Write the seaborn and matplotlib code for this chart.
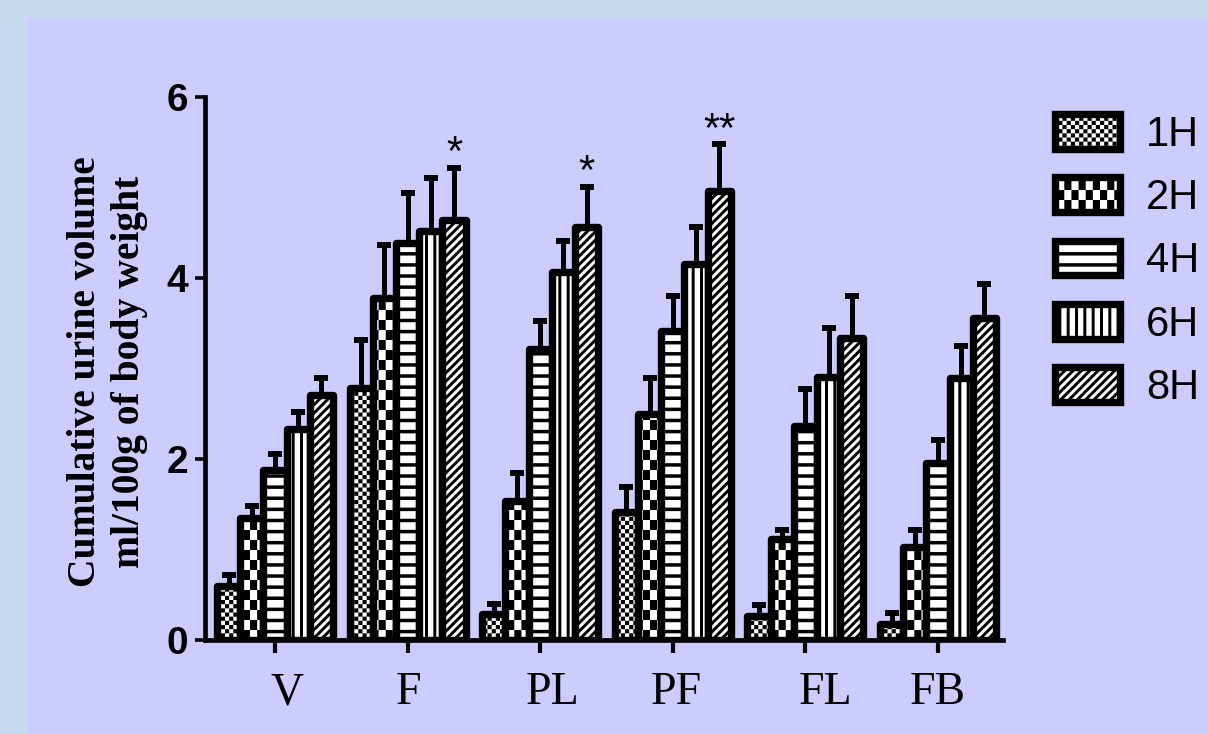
import numpy as np
import pandas as pd
import matplotlib
matplotlib.use("Agg")
import matplotlib.pyplot as plt
import matplotlib.hatch as mhatch
from matplotlib.path import Path
from matplotlib.patches import Rectangle
from matplotlib.transforms import ScaledTranslation
import seaborn as sns

# ---------------- data ----------------
groups = ["V", "F", "PL", "PF", "FL", "FB"]
times = ["1H", "2H", "4H", "6H", "8H"]

mean_1h = [0.60, 2.79, 0.29, 1.41, 0.27, 0.18]
mean_2h = [1.35, 3.78, 1.54, 2.50, 1.12, 1.03]
mean_4h = [1.88, 4.39, 3.21, 3.41, 2.37, 1.96]
mean_6h = [2.33, 4.52, 4.07, 4.15, 2.91, 2.89]
mean_8h = [2.71, 4.64, 4.56, 4.96, 3.34, 3.56]

sem_1h = [0.12, 0.53, 0.11, 0.28, 0.12, 0.12]
sem_2h = [0.13, 0.59, 0.31, 0.39, 0.10, 0.18]
sem_4h = [0.18, 0.55, 0.32, 0.39, 0.40, 0.25]
sem_6h = [0.19, 0.58, 0.34, 0.41, 0.54, 0.36]
sem_8h = [0.19, 0.58, 0.45, 0.52, 0.46, 0.37]

# significance marks above the 8H bars
sig_8h = ["", "*", "*", "**", "", ""]

means = [mean_1h, mean_2h, mean_4h, mean_6h, mean_8h]
sems = [sem_1h, sem_2h, sem_4h, sem_6h, sem_8h]


# ---------------- fill patterns (solid shapes in the unit hatch cell) ----------------
def _rect(x0, y0, x1, y1):
    return [(x0, y0), (x1, y0), (x1, y1), (x0, y1), (x0, y0)]


_RECT_CODES = [Path.MOVETO, Path.LINETO, Path.LINETO, Path.LINETO, Path.CLOSEPOLY]


class _ShapeHatch(mhatch.HatchPatternBase):
    char = None

    def __init__(self, hatch, density):
        self.polys = self.make_polys() if (hatch and self.char in hatch) else []
        self.num_vertices = 5 * len(self.polys)

    def make_polys(self):
        return []

    def set_vertices_and_codes(self, vertices, codes):
        for k, poly in enumerate(self.polys):
            vertices[5 * k:5 * k + 5] = poly
            codes[5 * k:5 * k + 5] = _RECT_CODES


class FineChecker(_ShapeHatch):
    char = "o"
    nx, ny = 24, 24

    def make_polys(self):
        return [_rect(i / self.nx, j / self.ny, (i + 1) / self.nx, (j + 1) / self.ny)
                for i in range(self.nx) for j in range(self.ny) if (i + j) % 2 == 0]


class CoarseChecker(FineChecker):
    char = "O"
    nx, ny = 14, 10


class HStripes(_ShapeHatch):
    char = "-"
    n, t = 9, 0.035

    def make_polys(self):
        return [_rect(0, k / self.n, 1, k / self.n + self.t) for k in range(self.n)]


class VStripes(_ShapeHatch):
    char = "|"
    n, t = 12, 0.03

    def make_polys(self):
        return [_rect(k / self.n, 0, k / self.n + self.t, 1) for k in range(self.n)]


class DiagStripes(_ShapeHatch):
    char = "/"
    n = 12

    def make_polys(self):
        w = 0.5 / self.n
        polys = []
        for k in range(-self.n, self.n + 1):
            c = k / self.n
            polys.append([(c, 0), (c + w, 0), (c + w + 1, 1), (c + 1, 1), (c, 0)])
        return polys


mhatch._hatch_types[:] = [FineChecker, CoarseChecker, HStripes, VStripes, DiagStripes]
hatches = ["o", "O", "-", "|", "/"]

# ---------------- style ----------------
sns.set_style("ticks")
plt.rcParams.update({
    "hatch.linewidth": 0.0,
    "hatch.color": "black",
    "text.color": "black",
    "axes.labelcolor": "black",
    "xtick.color": "black",
    "ytick.color": "black",
    "xtick.labelcolor": "black",
    "ytick.labelcolor": "black",
})
plt.rcParams["font.family"] = ["Liberation Sans", "DejaVu Sans"]

fig = plt.figure(figsize=(12.08, 7.34), dpi=100, facecolor="#c6d9ef")
fig.add_artist(Rectangle((28 / 1208, 0), 1 - 28 / 1208, 1 - 19 / 734,
                         transform=fig.transFigure, facecolor="#ccccff",
                         edgecolor="none", zorder=-10))

ax = fig.add_axes([205 / 1208, 1 - 640 / 734, 798 / 1208, 543 / 734])
ax.set_facecolor("none")

df = pd.DataFrame({
    "group": np.repeat([groups], len(times), axis=0).ravel(),
    "time": np.repeat(times, len(groups)),
    "value": np.ravel(means),
})

sns.barplot(data=df, x="group", y="value", hue="time", order=groups,
            hue_order=times, palette=["white"] * len(times), width=0.875,
            gap=0, edgecolor="black", linewidth=5.3, errorbar=None,
            saturation=1, legend=False, ax=ax, zorder=2)
bar_containers = list(ax.containers)

for cont, h, err in zip(bar_containers, hatches, sems):
    xs, ys = [], []
    for p in cont.patches:
        p.set_hatch(h)
        p.set_joinstyle("round")
        xs.append(p.get_x() + p.get_width() / 2)
        ys.append(p.get_height())
    ax.errorbar(xs, ys, yerr=err, fmt="none", ecolor="black", elinewidth=3.6,
                capsize=4.7, capthick=4.3, zorder=1)

# significance marks
top = bar_containers[-1]
for p, m, e, s in zip(top.patches, mean_8h, sem_8h, sig_8h):
    if s:
        ax.text(p.get_x() + p.get_width() / 2, m + e + 0.15, s, ha="center",
                va="center", fontsize=30, family="Liberation Sans")

# axes
ax.set_xlim(-0.528, 5.49)
ax.set_ylim(0, 6)
ax.set_yticks([0, 2, 4, 6])
ax.set_xlabel("")
ax.set_ylabel("Cumulative urine volume\nml/100g of body weight",
              family="Liberation Serif", fontweight="bold", fontsize=28.5,
              linespacing=1.25, color="black")
ax.yaxis.label.set_verticalalignment("center")
ax.yaxis.set_label_coords(-0.1216, 0.494)

sns.despine(ax=ax)
for side in ("left", "bottom"):
    ax.spines[side].set_linewidth(3.4)
    ax.spines[side].set_color("black")

ax.tick_params(axis="y", direction="out", length=7, width=2.6, pad=5,
               labelsize=28, color="black", labelcolor="black")
ax.tick_params(axis="x", direction="out", length=9, width=3.0, pad=14,
               labelsize=33, color="black", labelcolor="black")
for lab in ax.get_yticklabels():
    lab.set_fontweight("bold")
    lab.set_family("Liberation Sans")

ax.set_xticks(range(len(groups)))
ax.set_xticklabels(groups, family="Liberation Serif")
label_shift_px = [12, 1, 12, 3, 20, 0]
for lab, dx in zip(ax.get_xticklabels(), label_shift_px):
    lab.set_transform(lab.get_transform()
                      + ScaledTranslation(dx / 100, 0, fig.dpi_scale_trans))

# legend
leg = fig.legend(handles=bar_containers, labels=times, loc="upper left",
                 bbox_to_anchor=(1055 / 1208, 1 - 114 / 734), frameon=False,
                 prop={"family": "Liberation Sans", "size": 30},
                 handlelength=1.56, handleheight=0.91, labelspacing=0.54,
                 handletextpad=0.62, borderpad=0, borderaxespad=0)
for t in leg.get_texts():
    t.set_color("black")

fig.savefig("out.png", dpi=100, facecolor=fig.get_facecolor())
